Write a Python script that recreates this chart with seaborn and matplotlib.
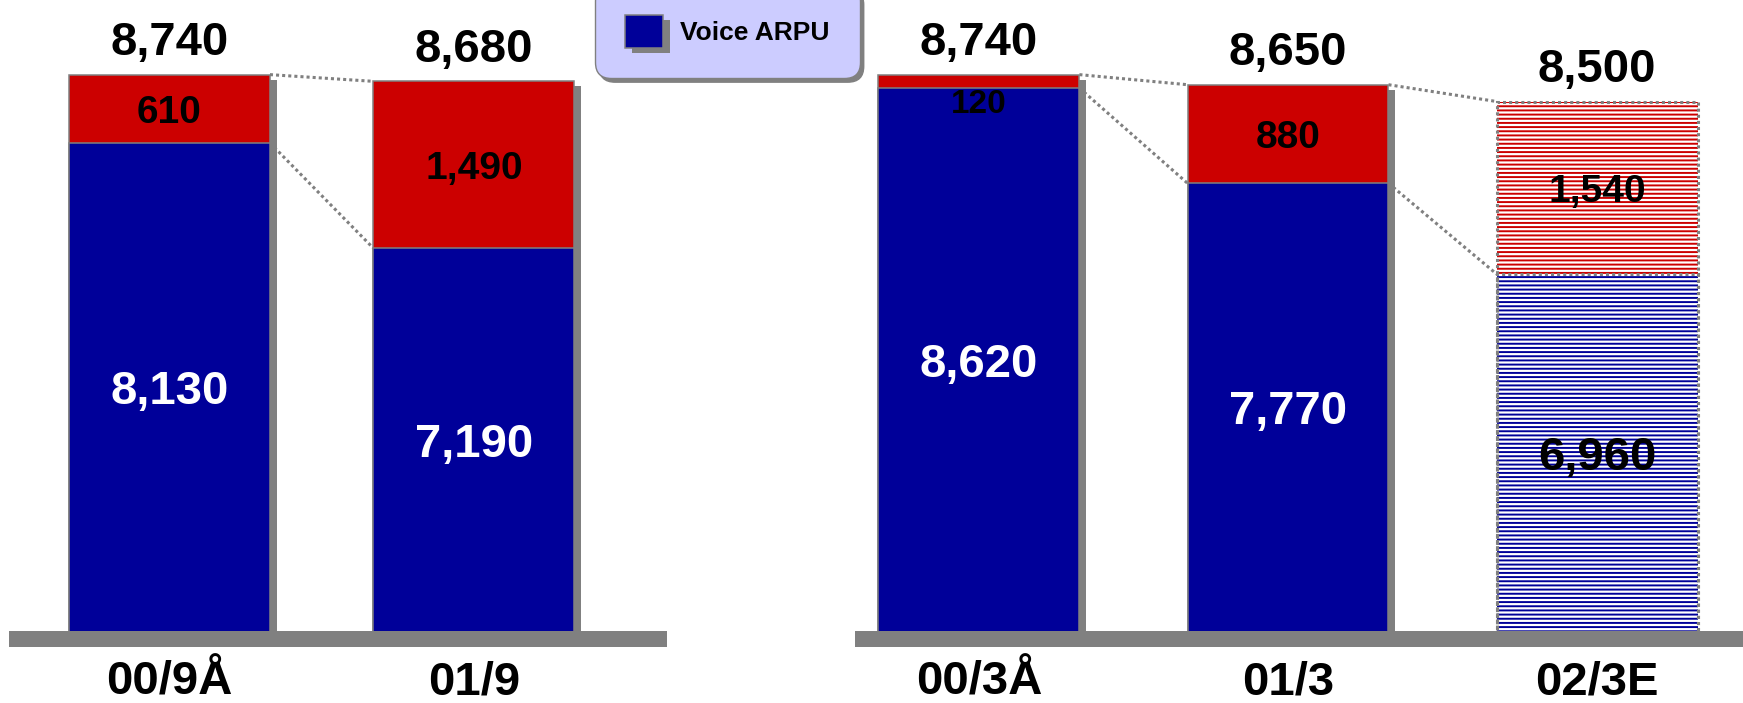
import matplotlib
matplotlib.use("Agg")
import matplotlib.pyplot as plt
import matplotlib.patheffects as pe
from matplotlib.patches import Rectangle
import pandas as pd
import seaborn as sns

# ARPU breakdown (yen): voice component and data component per period
left_periods = ["00/9Å", "01/9"]
left_voice = [8130, 7190]
left_data = [610, 1490]

right_periods = ["00/3Å", "01/3", "02/3E"]
right_voice = [8620, 7770, 6960]
right_data = [120, 880, 1540]

# periods that are forecasts (drawn hatched)
estimate_periods = ["02/3E"]

legend_label = "Voice ARPU"

BLUE = "#000099"
RED = "#CC0000"
GRAY = "#808080"
LAVENDER = "#CCCCFF"

sns.set_theme(style="white")
plt.rcParams["font.family"] = ["Liberation Sans", "DejaVu Sans"]
plt.rcParams["font.weight"] = "bold"
plt.rcParams["text.color"] = "black"
plt.rcParams["xtick.color"] = "black"
plt.rcParams["hatch.linewidth"] = 1.4

W, H = 1743, 703
fig = plt.figure(figsize=(W / 100, H / 100), dpi=100)

# value axis: the floor slab sits between Y_LOW and Y_FLOOR
Y_LOW, Y_FLOOR, Y_HIGH = 3632, 3775, 9406
DOTTED = (0, (1, 1))


def shadow():
    return [pe.SimplePatchShadow(offset=(5, -3.6), shadow_rgbFace=GRAY, alpha=1.0),
            pe.Normal()]


def draw_panel(rect, periods, voice, data, xlim, width):
    ax = fig.add_axes(rect)
    ax.set_facecolor("none")
    df = pd.DataFrame({"period": periods, "voice": voice, "data": data})
    df["total"] = df["voice"] + df["data"]
    is_est = df["period"].isin(estimate_periods).tolist()

    common = dict(x="period", width=width, saturation=1, edgecolor=GRAY,
                  linewidth=1.1, errorbar=None, ax=ax)
    sns.barplot(data=df, y="total", color=RED, zorder=2, **common)
    sns.barplot(data=df, y="voice", color=BLUE, zorder=3, **common)

    tot_bars, voice_bars = ax.containers[0], ax.containers[1]
    voice_bars.set_label(legend_label)
    for i in range(len(df)):
        for bar, col in ((tot_bars[i], RED), (voice_bars[i], BLUE)):
            if is_est[i]:
                bar.set_facecolor("white")
                bar.set_hatch("----")
                bar.set_edgecolor(col)
                bar.set_linewidth(0)
                outline = Rectangle((bar.get_x(), bar.get_y()), bar.get_width(),
                                    bar.get_height(), fill=False, edgecolor=GRAY,
                                    linewidth=2.2, linestyle=DOTTED, zorder=4)
                ax.add_patch(outline)
            else:
                bar.set_path_effects(shadow())

    # dotted connectors between neighbouring bars
    for i in range(len(df) - 1):
        for col in ("total", "voice"):
            ax.plot([i + width / 2, i + 1 - width / 2],
                    [df[col][i], df[col][i + 1]], color=GRAY, lw=2.2,
                    linestyle=DOTTED, solid_capstyle="butt", zorder=1)

    # value labels
    for i, row in df.iterrows():
        ax.annotate(f"{row['total']:,}", (i, row["total"]), xytext=(0, 14),
                    textcoords="offset points", ha="center", va="baseline",
                    fontsize=34, fontweight="bold", color="black", zorder=7)
        if row["data"] >= 300:
            ax.text(i, (row["voice"] + row["total"]) / 2, f"{row['data']:,}",
                    ha="center", va="center_baseline", fontsize=28,
                    fontweight="bold", color="black", zorder=7)
        else:
            ax.annotate(f"{row['data']:,}", (i, row["voice"]), xytext=(0, -1),
                        textcoords="offset points", ha="center", va="top",
                        fontsize=24, fontweight="bold", color="black", zorder=7)
        ax.text(i, (Y_FLOOR + row["voice"]) / 2, f"{row['voice']:,}",
                ha="center", va="center_baseline", fontsize=34, fontweight="bold",
                color="black" if is_est[i] else "white", zorder=7)

    # floor slab
    ax.axhspan(Y_LOW, Y_FLOOR, color=GRAY, lw=0, zorder=6)

    ax.set_xlim(*xlim)
    ax.set_ylim(Y_LOW, Y_HIGH)
    ax.set_yticks([])
    ax.set_xlabel("")
    ax.set_ylabel("")
    for s in ax.spines.values():
        s.set_visible(False)
    ax.tick_params(axis="x", length=0, pad=34)
    ax.set_xticks(range(len(periods)))
    ax.set_xticklabels(periods, va="baseline", fontsize=34, fontweight="bold",
                       color="black")
    return ax


bottom = 1 - 647 / H
height = 647 / H
left_ax = draw_panel([9 / W, bottom, 658 / W, height], left_periods, left_voice,
                     left_data, (-0.527, 1.634), 0.66)
right_ax = draw_panel([855 / W, bottom, 888 / W, height], right_periods, right_voice,
                      right_data, (-0.401, 2.472), 0.65)

leg = fig.legend(handles=[right_ax.containers[1]], loc="lower left",
                 bbox_to_anchor=(595 / W, 1 - 78 / H), borderaxespad=0,
                 borderpad=1.14, handlelength=1.44, handleheight=1.55,
                 handletextpad=0.64, prop={"weight": "bold", "size": 19},
                 labelcolor="black",
                 frameon=True, fancybox=True, facecolor=LAVENDER, edgecolor=GRAY,
                 framealpha=1,
                 shadow={"ox": 3, "oy": -3, "color": GRAY, "alpha": 1})
leg.get_frame().set_boxstyle("round,pad=0,rounding_size=0.6")
leg.get_frame().set_linewidth(1.0)
leg.legend_handles[0].set_path_effects(shadow())

fig.savefig("out.png", dpi=100)
